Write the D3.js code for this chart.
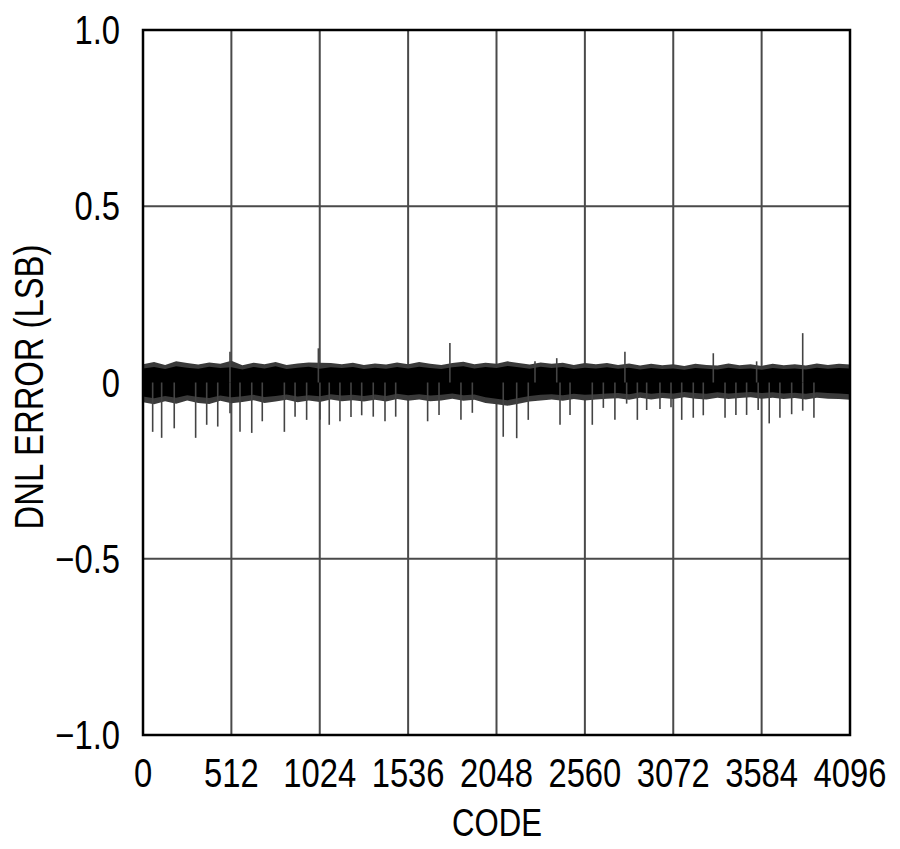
<!DOCTYPE html>
<html>
<head>
<meta charset="utf-8">
<script src="https://cdn.jsdelivr.net/npm/d3@7"></script>
<style>
  html, body { margin: 0; padding: 0; background: #fff; }
  svg { display: block; }
  text { font-family: "Liberation Sans", Arial, sans-serif; fill: #000; }
</style>
</head>
<body>
<svg id="chart" width="900" height="849"></svg>
<script>
// ---------------- data ----------------
const xTicks = [0, 512, 1024, 1536, 2048, 2560, 3072, 3584, 4096];
const yTicks = [1.0, 0.5, 0, -0.5, -1.0];
const yTickLabels = ["1.0", "0.5", "0", "\u22120.5", "\u22121.0"];
const xTitle = "CODE";
const yTitle = "DNL ERROR (LSB)";

// band envelope sampled every 64 codes (0 ... 4096)
const bandCodes = [0,64,128,192,256,320,384,448,512,576,640,704,768,832,896,960,1024,1088,1152,1216,1280,
  1344,1408,1472,1536,1600,1664,1728,1792,1856,1920,1984,2048,2112,2176,2240,2304,2368,2432,2496,2560,2624,2688,
  2752,2816,2880,2944,3008,3072,3136,3200,3264,3328,3392,3456,3520,3584,3648,3712,3776,3840,3904,3968,4032,4096];
const coreHi = [0.040,0.044,0.038,0.046,0.042,0.039,0.045,0.041,0.043,0.037,0.044,0.040,0.046,0.038,0.042,0.045,0.039,0.043,0.041,0.044,0.038,
  0.042,0.039,0.044,0.040,0.045,0.041,0.038,0.043,0.046,0.040,0.044,0.041,0.047,0.043,0.039,0.045,0.041,0.044,0.038,0.042,0.040,0.043,
  0.039,0.042,0.037,0.041,0.038,0.040,0.036,0.041,0.039,0.037,0.042,0.038,0.040,0.036,0.041,0.038,0.040,0.037,0.042,0.039,0.041,0.040];
const coreLo = [-0.040,-0.045,-0.038,-0.043,-0.036,-0.041,-0.044,-0.037,-0.042,-0.039,-0.035,-0.041,-0.038,-0.034,-0.040,-0.036,-0.039,-0.033,-0.037,-0.035,-0.038,
  -0.034,-0.038,-0.032,-0.036,-0.033,-0.037,-0.035,-0.031,-0.036,-0.034,-0.042,-0.046,-0.050,-0.044,-0.038,-0.035,-0.033,-0.036,-0.032,-0.035,-0.033,-0.031,
  -0.030,-0.033,-0.028,-0.032,-0.029,-0.031,-0.027,-0.030,-0.032,-0.028,-0.031,-0.029,-0.027,-0.030,-0.028,-0.031,-0.029,-0.032,-0.028,-0.030,-0.031,-0.033];
const fringeHi = [0.052,0.058,0.050,0.060,0.055,0.051,0.057,0.053,0.062,0.049,0.056,0.052,0.058,0.050,0.054,0.057,0.056,0.055,0.052,0.056,0.050,
  0.054,0.051,0.057,0.052,0.058,0.053,0.050,0.055,0.059,0.052,0.056,0.053,0.060,0.055,0.051,0.057,0.053,0.056,0.050,0.055,0.052,0.055,
  0.050,0.054,0.048,0.053,0.049,0.052,0.047,0.053,0.050,0.048,0.054,0.049,0.052,0.047,0.053,0.049,0.052,0.048,0.054,0.050,0.053,0.051];
const fringeLo = [-0.056,-0.062,-0.053,-0.060,-0.051,-0.058,-0.061,-0.052,-0.059,-0.055,-0.050,-0.058,-0.054,-0.049,-0.056,-0.051,-0.055,-0.048,-0.053,-0.050,-0.054,
  -0.049,-0.054,-0.047,-0.052,-0.048,-0.053,-0.051,-0.046,-0.052,-0.049,-0.058,-0.062,-0.066,-0.060,-0.054,-0.051,-0.048,-0.052,-0.047,-0.051,-0.048,-0.046,
  -0.045,-0.049,-0.043,-0.048,-0.044,-0.047,-0.042,-0.046,-0.048,-0.043,-0.047,-0.044,-0.042,-0.046,-0.043,-0.047,-0.044,-0.048,-0.043,-0.046,-0.047,-0.049];

// isolated spikes [code, DNL]
const spikeCodes  = [56,108,181,305,369,433,504,562,630,691,819,881,948,1025,1079,1141,1205,1267,1334,
  1402,1464,1649,1715,1842,1908,2087,2165,2232,2416,2474,2603,2667,
  2734,2802,2864,2918,2995,3059,3121,3188,3246,3372,3435,3497,3564,3628,3690,3758,3822,3887,
  504,1016,1778,2271,2397,2792,3304,3555,3822];
const spikeValues = [-0.140,-0.157,-0.130,-0.157,-0.120,-0.125,-0.087,-0.140,-0.143,-0.110,-0.140,-0.097,-0.106,-0.106,-0.120,-0.110,-0.098,-0.093,-0.097,
  -0.110,-0.097,-0.110,-0.092,-0.106,-0.086,-0.154,-0.158,-0.106,-0.120,-0.092,-0.120,-0.072,
  -0.106,-0.060,-0.106,-0.078,-0.075,-0.070,-0.106,-0.100,-0.093,-0.100,-0.092,-0.092,-0.078,-0.116,-0.100,-0.090,-0.080,-0.100,
  0.087,0.097,0.112,0.060,0.069,0.087,0.083,0.060,0.140];

// ---------------- layout ----------------
const svg = d3.select("#chart");
const m = { left: 143, right: 850, top: 30, bottom: 735 };
const x = d3.scaleLinear().domain([0, 4096]).range([m.left, m.right]);
const y = d3.scaleLinear().domain([-1, 1]).range([m.bottom, m.top]);
const narrow = 0.82; // condensed lettering

// gridlines
svg.append("g").selectAll("line").data(xTicks.slice(1, -1)).join("line")
  .attr("x1", d => x(d)).attr("x2", d => x(d))
  .attr("y1", m.top).attr("y2", m.bottom)
  .attr("stroke", "#4a4a4a").attr("stroke-width", 2);
svg.append("g").selectAll("line").data(yTicks.slice(1, -1)).join("line")
  .attr("x1", m.left).attr("x2", m.right)
  .attr("y1", d => y(d)).attr("y2", d => y(d))
  .attr("stroke", "#4a4a4a").attr("stroke-width", 2);

// band
const band = bandCodes.map((c, i) => ({ c, hi: coreHi[i], lo: coreLo[i], fh: fringeHi[i], fl: fringeLo[i] }));
svg.append("path").datum(band)
  .attr("d", d3.area().x(d => x(d.c)).y0(d => y(d.fl)).y1(d => y(d.fh)))
  .attr("fill", "#3a3a3a");
svg.append("path").datum(band)
  .attr("d", d3.area().x(d => x(d.c)).y0(d => y(d.lo)).y1(d => y(d.hi)))
  .attr("fill", "#000");

// spikes
svg.append("g").selectAll("line").data(spikeCodes.map((c, i) => [c, spikeValues[i]])).join("line")
  .attr("x1", d => x(d[0])).attr("x2", d => x(d[0]))
  .attr("y1", y(0)).attr("y2", d => y(d[1]))
  .attr("stroke", "#444").attr("stroke-width", 1.6);

// frame
svg.append("rect").attr("x", m.left).attr("y", m.top)
  .attr("width", m.right - m.left).attr("height", m.bottom - m.top)
  .attr("fill", "none").attr("stroke", "#000").attr("stroke-width", 2.5);

// tick labels
svg.append("g").selectAll("text").data(xTicks).join("text")
  .attr("transform", d => `translate(${x(d)},787) scale(${narrow},1)`)
  .attr("text-anchor", "middle").attr("font-size", 40)
  .text(d => d);
svg.append("g").selectAll("text").data(yTicks).join("text")
  .attr("transform", d => `translate(120,${y(d) + 14}) scale(${narrow},1)`)
  .attr("text-anchor", "end").attr("font-size", 40)
  .text((d, i) => yTickLabels[i]);

// titles
svg.append("text").attr("transform", `translate(497,836) scale(${narrow},1)`)
  .attr("text-anchor", "middle").attr("font-size", 38).text(xTitle);
svg.append("text").attr("transform", `translate(43,387) rotate(-90) scale(${narrow},1)`)
  .attr("text-anchor", "middle").attr("font-size", 40).text(yTitle);
</script>
</body>
</html>
